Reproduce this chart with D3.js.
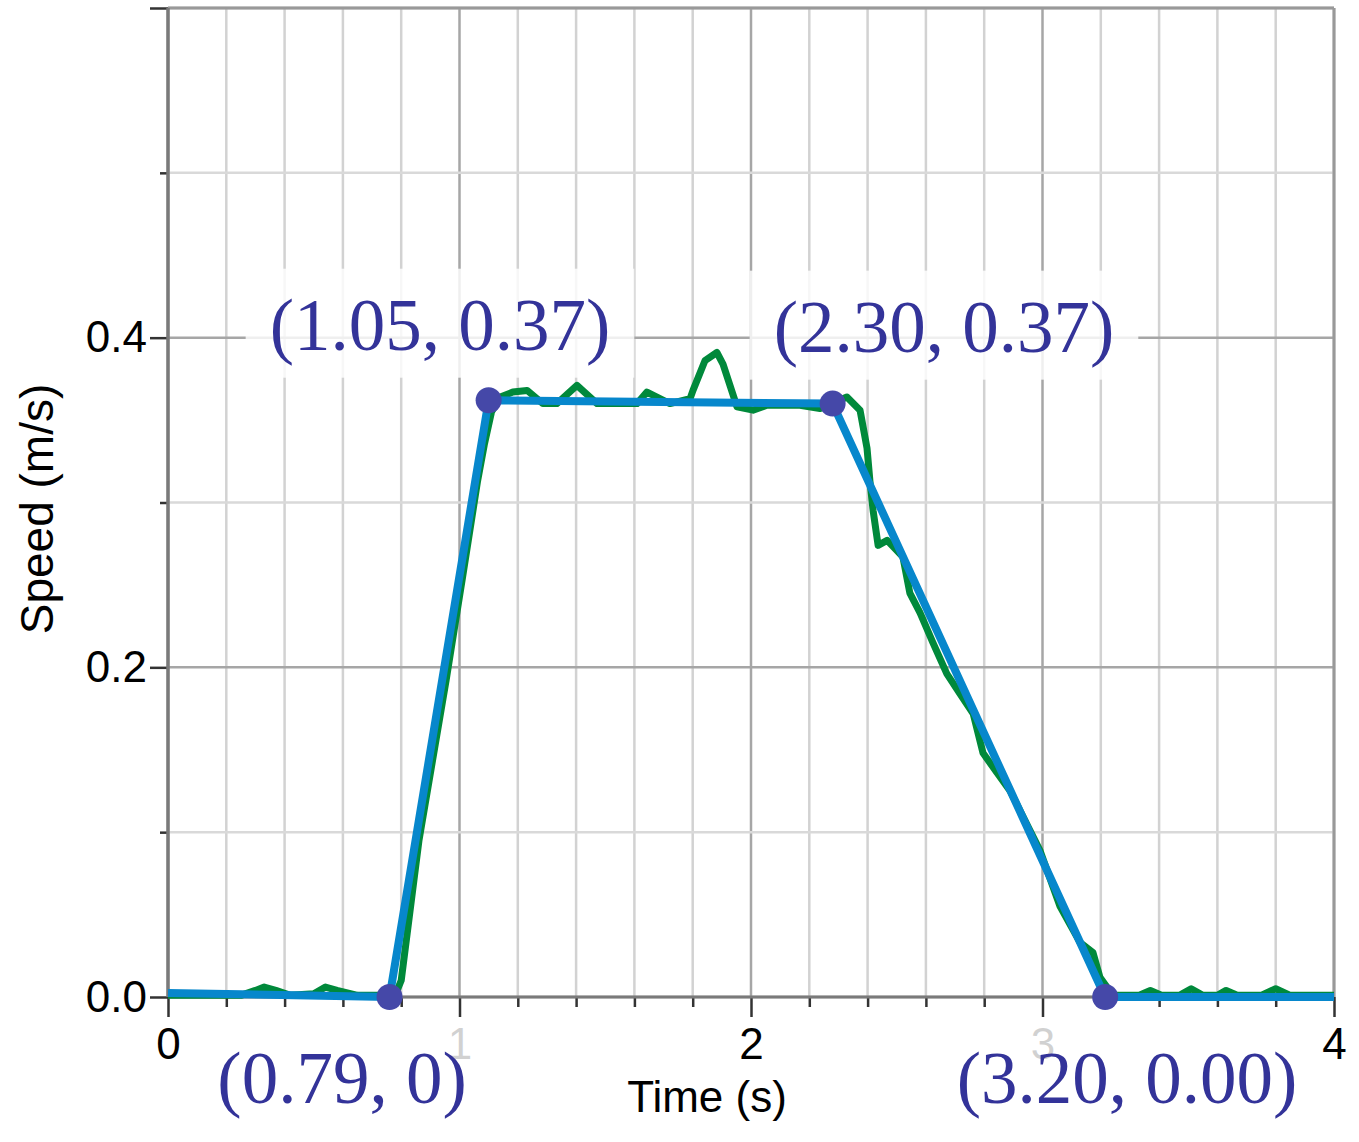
<!DOCTYPE html>
<html>
<head>
<meta charset="utf-8">
<script src="https://cdn.jsdelivr.net/npm/d3@7"></script>
<style>
  html, body { margin: 0; padding: 0; background: #fff; }
  svg { display: block; }
</style>
</head>
<body>
<svg id="chart" width="1359" height="1142"></svg>
<script>
// ---- data ----
const timeSamples = [0, 0.25, 0.30, 0.33, 0.37, 0.42, 0.50, 0.54, 0.58, 0.65, 0.76, 0.779, 0.80, 0.861, 0.954, 1.009, 1.062, 1.085, 1.11, 1.14, 1.183, 1.232, 1.286, 1.334, 1.403, 1.472, 1.609, 1.643, 1.722, 1.791, 1.801, 1.842, 1.883, 1.904, 1.952, 2.007, 2.055, 2.168, 2.237, 2.329, 2.374, 2.398, 2.408, 2.419, 2.436, 2.467, 2.521, 2.545, 2.580, 2.624, 2.672, 2.717, 2.762, 2.796, 2.844, 2.889, 2.991, 3.060, 3.129, 3.173, 3.197, 3.221, 3.249, 3.33, 3.37, 3.41, 3.47, 3.51, 3.55, 3.60, 3.63, 3.67, 3.75, 3.80, 3.85, 4.0];
const speedSamples = [0.001, 0.001, 0.004, 0.006, 0.004, 0.001, 0.002, 0.006, 0.004, 0.001, 0.001, 0.001, 0.010, 0.095, 0.192, 0.253, 0.313, 0.335, 0.355, 0.364, 0.367, 0.368, 0.360, 0.360, 0.371, 0.360, 0.360, 0.367, 0.360, 0.363, 0.368, 0.386, 0.391, 0.384, 0.358, 0.356, 0.359, 0.359, 0.357, 0.364, 0.356, 0.333, 0.313, 0.295, 0.274, 0.277, 0.267, 0.245, 0.233, 0.215, 0.196, 0.184, 0.172, 0.148, 0.136, 0.125, 0.089, 0.055, 0.033, 0.027, 0.012, 0.006, 0.001, 0.001, 0.004, 0.001, 0.001, 0.005, 0.001, 0.001, 0.004, 0.001, 0.001, 0.005, 0.001, 0.001];

const fitTimes = [0, 0.76, 1.10, 2.28, 3.215, 4];
const fitSpeeds = [0.0025, 0, 0.362, 0.360, 0, 0];
const markedIndex = [1, 2, 3, 4];
const pointLabels = ["(0.79, 0)", "(1.05, 0.37)", "(2.30, 0.37)", "(3.20, 0.00)"];

const xMajorTicks = [0, 1, 2, 3, 4];
const xTickLabels = ["0", "1", "2", "3", "4"];
const yMajorTicks = [0, 0.2, 0.4, 0.6];
const yTickLabels = ["0.0", "0.2", "0.4", ""];
const xTitle = "Time (s)";
const yTitle = "Speed (m/s)";

// ---- layout ----
const W = 1359, H = 1142;
const m = { left: 168, right: 1334, top: 8, bottom: 997 };
const svg = d3.select("#chart");

const x = d3.scaleLinear().domain([0, 4]).range([m.left, m.right]);
const y = d3.scaleLinear().domain([0, 0.6]).range([m.bottom, m.top]);

const xMinor = d3.range(0, 4.0001, 0.2).map(v => +v.toFixed(1));
const yMinor = d3.range(0, 0.6001, 0.1).map(v => +v.toFixed(1));
const isInt = v => Math.abs(v - Math.round(v)) < 1e-6;
const isY2 = v => Math.abs(v / 0.2 - Math.round(v / 0.2)) < 1e-6;

// grid
const grid = svg.append("g");
grid.selectAll("line.vx").data(xMinor).join("line")
  .attr("x1", d => x(d)).attr("x2", d => x(d))
  .attr("y1", m.top).attr("y2", m.bottom)
  .attr("stroke", d => isInt(d) ? "#a6a6a6" : "#d2d2d2")
  .attr("stroke-width", 2.5);
grid.selectAll("line.hy").data(yMinor).join("line")
  .attr("y1", d => y(d)).attr("y2", d => y(d))
  .attr("x1", m.left).attr("x2", m.right)
  .attr("stroke", d => isY2(d) ? "#a6a6a6" : "#d9d9d9")
  .attr("stroke-width", 2.5);
// top and right border
svg.append("line").attr("x1", m.left).attr("x2", m.right).attr("y1", m.top).attr("y2", m.top)
  .attr("stroke", "#999").attr("stroke-width", 3);
svg.append("line").attr("x1", m.right).attr("x2", m.right).attr("y1", m.top).attr("y2", m.bottom)
  .attr("stroke", "#999").attr("stroke-width", 3);

// axes
const fontSans = "'Liberation Sans', Arial, sans-serif";
const yAxisMinor = d3.axisLeft(y).tickValues([0.1, 0.3, 0.5]).tickSize(8).tickFormat("");
const yAxis = d3.axisLeft(y).tickValues(yMajorTicks).tickSize(18).tickPadding(3)
  .tickFormat((d, i) => yTickLabels[i]);
const xAxisMinor = d3.axisBottom(x).tickValues(xMinor.filter(v => !isInt(v))).tickSize(10).tickFormat("");
const xAxis = d3.axisBottom(x).tickValues(xMajorTicks).tickSize(20).tickPadding(11)
  .tickFormat((d, i) => xTickLabels[i]);

function styleAxis(g) {
  g.select(".domain").remove();
  g.selectAll(".tick line").attr("stroke", "#333").attr("stroke-width", 2.5);
  g.selectAll(".tick text").attr("font-family", fontSans).attr("font-size", 44).attr("fill", "#000");
}
svg.append("g").attr("transform", `translate(${m.left},0)`).call(yAxisMinor).call(styleAxis);
svg.append("g").attr("transform", `translate(${m.left},0)`).call(yAxis).call(styleAxis);
svg.append("g").attr("transform", `translate(0,${m.bottom})`).call(xAxisMinor).call(styleAxis);
svg.append("g").attr("transform", `translate(0,${m.bottom})`).call(xAxis).call(styleAxis);

// axis lines
svg.append("line").attr("x1", m.left).attr("x2", m.left).attr("y1", m.top).attr("y2", m.bottom)
  .attr("stroke", "#7a7a7a").attr("stroke-width", 3.5);
svg.append("line").attr("x1", m.left).attr("x2", m.right).attr("y1", m.bottom).attr("y2", m.bottom)
  .attr("stroke", "#7a7a7a").attr("stroke-width", 3);

// axis titles
svg.append("text").attr("x", 707).attr("y", 1112).attr("text-anchor", "middle")
  .attr("font-family", fontSans).attr("font-size", 44).attr("fill", "#000").text(xTitle);
svg.append("text").attr("transform", "translate(53,509) rotate(-90)").attr("text-anchor", "middle")
  .attr("font-family", fontSans).attr("font-size", 46).attr("fill", "#000").text(yTitle);

// measured data
const measured = timeSamples.map((t, i) => [t, speedSamples[i]]);
svg.append("path").datum(measured)
  .attr("d", d3.line().x(d => x(d[0])).y(d => y(d[1])))
  .attr("fill", "none").attr("stroke", "#00893b").attr("stroke-width", 7)
  .attr("stroke-linejoin", "round");

// fit line
const fit = fitTimes.map((t, i) => [t, fitSpeeds[i]]);
svg.append("path").datum(fit)
  .attr("d", d3.line().x(d => x(d[0])).y(d => y(d[1])))
  .attr("fill", "none").attr("stroke", "#0787cc").attr("stroke-width", 8)
  .attr("stroke-linejoin", "round");

svg.selectAll("circle.pt").data(markedIndex).join("circle")
  .attr("cx", i => x(fitTimes[i])).attr("cy", i => y(fitSpeeds[i]))
  .attr("r", 13).attr("fill", "#4548a8");

// annotation labels (anchors in data space)
const labelAnchors = [[0.597, -0.0643], [0.933, 0.3927], [2.662, 0.3915], [3.29, -0.0643]];
const fontSerif = "'Liberation Serif', 'Times New Roman', serif";
const labG = svg.append("g");
pointLabels.forEach((txt, i) => {
  const g = labG.append("g");
  const rect = g.append("rect").attr("fill", "#fff").attr("fill-opacity", 0.82);
  const t = g.append("text").attr("x", x(labelAnchors[i][0])).attr("y", y(labelAnchors[i][1]))
    .attr("text-anchor", "middle").attr("font-family", fontSerif).attr("font-size", 73)
    .attr("fill", "#333399").text(txt);
  const b = t.node().getBBox();
  rect.attr("x", b.x - 24).attr("y", b.y - 16).attr("width", b.width + 48).attr("height", b.height + 28);
});
</script>
</body>
</html>
